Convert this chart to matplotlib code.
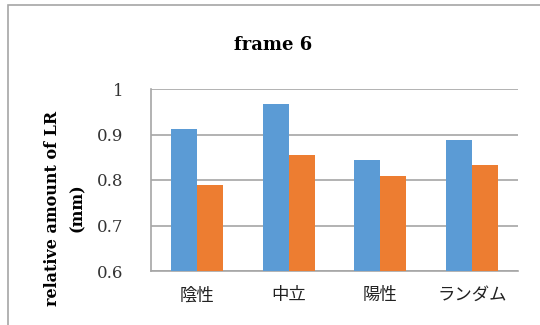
import matplotlib
matplotlib.use("Agg")
import matplotlib.pyplot as plt
import numpy as np
from matplotlib.patches import Rectangle

categories = ["陰性", "中立", "陽性", "ランダム"]
series1 = [0.913, 0.967, 0.845, 0.887]
series2 = [0.788, 0.856, 0.808, 0.834]
yticks = [0.6, 0.7, 0.8, 0.9, 1.0]
ytick_labels = ["0.6", "0.7", "0.8", "0.9", "1"]

W, H = 540, 325
fig = plt.figure(figsize=(W / 100, H / 100), dpi=100)

# outer frame (chart area border)
fig.patches.append(Rectangle((8 / W, -0.1), 1.2, (H - 5) / H + 0.1,
                             transform=fig.transFigure, fill=False,
                             edgecolor="#a6a6a6", linewidth=1.2, clip_on=False))

ax = fig.add_axes([151 / W, 1 - 271 / H, (518 - 151) / W, (271 - 89) / H])

x = np.arange(len(categories))
w = 0.283
ax.bar(x - w / 2, series1, width=w, color="#5b9bd5", zorder=3)
ax.bar(x + w / 2, series2, width=w, color="#ed7d31", zorder=3)

ax.set_xlim(-0.5, len(categories) - 0.5)
ax.set_ylim(0.6, 1.0)
ax.set_yticks(yticks)
ax.set_yticklabels(ytick_labels, family=["DejaVu Serif"], fontsize=12, color="#333333")
ax.set_xticks(x)
ax.set_xticklabels(categories, family=["Noto Sans CJK JP"], fontsize=12.5, color="#222222")
ax.tick_params(axis="both", length=0)
ax.tick_params(axis="y", pad=20)
ax.tick_params(axis="x", pad=11)

ax.grid(axis="y", color="#a6a6a6", linewidth=1.2, zorder=0)
for s in ["top", "right"]:
    ax.spines[s].set_visible(False)
for s in ["left", "bottom"]:
    ax.spines[s].set_color("#a6a6a6")
    ax.spines[s].set_linewidth(1.2)

fig.text(273 / W, 1 - 45 / H, "frame 6", fontsize=13, fontweight="bold",
         family=["DejaVu Serif"], ha="center", va="center")
fig.text(65 / W, 1 - 208 / H, "relative amount of LR\n(mm)", fontsize=11.5,
         fontweight="bold", family=["DejaVu Serif"], rotation=90,
         ha="center", va="center", multialignment="center", linespacing=1.6)

fig.savefig("out.png", dpi=100)
